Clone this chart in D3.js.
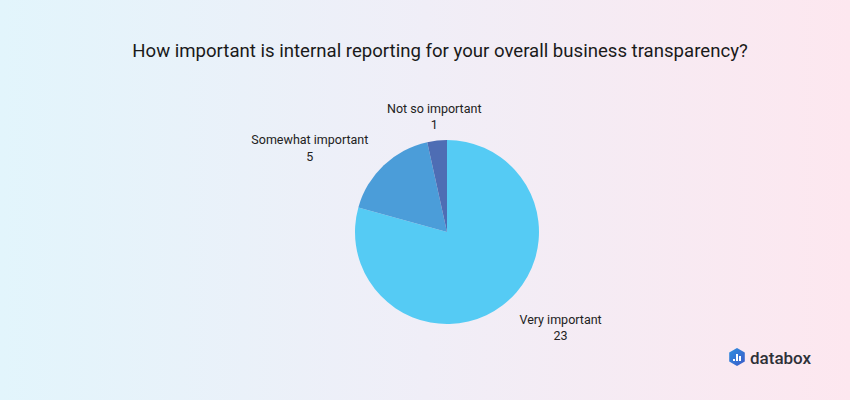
<!DOCTYPE html>
<html><head><meta charset="utf-8">
<script src="https://cdn.jsdelivr.net/npm/d3@7"></script>
<style>body{margin:0;padding:0;overflow:hidden}svg{display:block;font-family:Roboto,sans-serif}</style>
</head><body>
<svg id="chart" width="850" height="400"></svg>
<script>
const categories = ["Very important", "Somewhat important", "Not so important"];
const values = [23, 5, 1];
const colors = ["#55CBF4", "#4B9DD9", "#4E6DB4"];
const title = "How important is internal reporting for your overall business transparency?";

const svg = d3.select("#chart");
const defs = svg.append("defs");
const bg = defs.append("linearGradient").attr("id","bg").attr("x1","0").attr("x2","1").attr("y1","0").attr("y2","0");
bg.append("stop").attr("offset","0").attr("stop-color","#E2F5FC");
bg.append("stop").attr("offset","0.5").attr("stop-color","#F0EEF7");
bg.append("stop").attr("offset","1").attr("stop-color","#FDE7EF");
svg.append("rect").attr("width",850).attr("height",400).attr("fill","url(#bg)");

svg.append("text").attr("x",440).attr("y",57).attr("text-anchor","middle")
  .attr("font-size",18.6).attr("fill","#1a1a1a").text(title);

const cx = 447, cy = 232, r = 92;
const data = categories.map((c,i)=>({cat:c, val:values[i], color:colors[i]}));
const pie = d3.pie().sort(null).value(d=>d.val);
const arcs = pie(data);
const arc = d3.arc().innerRadius(0).outerRadius(r);
const g = svg.append("g").attr("transform",`translate(${cx},${cy})`);
g.selectAll("path").data(arcs).join("path").attr("d",arc).attr("fill",d=>d.data.color);

const R = 118;
arcs.forEach(a=>{
  const m = (a.startAngle + a.endAngle)/2;
  const sx = Math.sin(m), sy = -Math.cos(m);
  const t = g.append("text").attr("font-size",12.5).attr("fill","#222").attr("text-anchor","middle");
  t.append("tspan").text(a.data.cat);
  t.append("tspan").text(a.data.val);
  const w = t.node().getBBox().width;
  const shift = Math.abs(sx) > 0.3 ? Math.sign(sx)*(w/2 - 6) : 0;
  const x = sx*R + shift;
  const y = sy*R;
  t.selectAll("tspan").attr("x",x);
  t.select("tspan:nth-child(1)").attr("y",y - 2);
  t.select("tspan:nth-child(2)").attr("y",y + 14.5);
});

// logo
const lg = svg.append("g").attr("transform","translate(737,357)");
const hg = defs.append("linearGradient").attr("id","hex").attr("x1","0").attr("x2","1").attr("y1","0").attr("y2","1");
hg.append("stop").attr("offset","0").attr("stop-color","#2F8FE0");
hg.append("stop").attr("offset","1").attr("stop-color","#3B5BC8");
const hex = d3.range(6).map(i=>{const a=Math.PI/3*i - Math.PI/2; return [9*Math.cos(a), 9*Math.sin(a)];});
lg.append("path").attr("d","M"+hex.map(p=>p.join(",")).join("L")+"Z").attr("fill","url(#hex)");
[[-4,2,2],[-1,-3,7],[2,-1,5]].forEach(([x,y,h])=>lg.append("rect").attr("x",x).attr("y",y).attr("width",2).attr("height",h).attr("fill","#fff"));
svg.append("text").attr("x",750).attr("y",364).attr("font-size",17).attr("font-weight",500).attr("fill","#2e3138").text("databox");
</script>
</body></html>
